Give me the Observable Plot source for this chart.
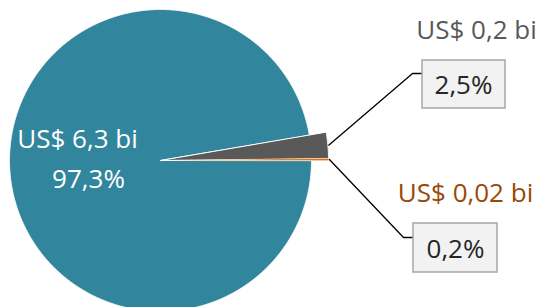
<!DOCTYPE html>
<html>
<head>
<meta charset="utf-8">
<script src="https://cdn.jsdelivr.net/npm/d3@7"></script>
<script src="https://cdn.jsdelivr.net/npm/@observablehq/plot@0.6"></script>
<style>
  html, body { margin: 0; padding: 0; background: #ffffff; }
  #chart { width: 554px; height: 307px; overflow: hidden; }
</style>
</head>
<body>
<div id="chart"></div>
<script>
// ---- data ----
const categories = ["Principal", "Segundo", "Terceiro"];
const shares = [97.3, 2.5, 0.2];
const valueLabels = ["US$ 6,3 bi", "US$ 0,2 bi", "US$ 0,02 bi"];
const percentLabels = ["97,3%", "2,5%", "0,2%"];

// ---- styles / layout ----
const sliceColors = ["#31859c", "#595959", "#e36c09"];
const sliceStroke = [1, 1, 0.4];
const valueColors = ["#ffffff", "#595959", "#984807"];
const W = 554, H = 307;
const CX = 160, CY = 160, R = 151;          // pie center & radius (px)
const sliceRadius = [1, 1.113, 1.113];     // relative radii
const FONT = "Open Sans";
const FS = 26;
const FW = 500;

// px -> data units helpers (layout only)
const ux = px => (px - CX) / R;
const uy = py => (CY - py) / R;

// label layout (px)
const valuePos = [[77, 147], [476, 38], [465, 201]];
const pctPos = [[88, 187], [463, 93], [455, 257]];
const boxPos = [null, [422, 60, 505, 108], [413, 223, 497, 272]];
const elbowPos = [null, [[412, 73], [422, 73]], [[403, 237], [413, 237]]];

// ---- pie geometry ----
const arcs = d3.pie().sort(null)
  .startAngle(Math.PI / 2)
  .endAngle(Math.PI / 2 + 2 * Math.PI)(shares);

function slicePoints(a, r, i) {
  const pts = [{x: 0, y: 0, i}];
  const span = a.endAngle - a.startAngle;
  const n = Math.max(8, Math.ceil(span / (Math.PI / 720)));
  for (let k = 0; k <= n; k++) {
    const t = a.startAngle + span * k / n;
    pts.push({x: r * Math.sin(t), y: r * Math.cos(t), i});
  }
  return pts;
}

const sliceMarks = arcs.map((a, i) =>
  Plot.line(slicePoints(a, sliceRadius[i], i), {
    x: "x", y: "y", fill: sliceColors[i], stroke: "#ffffff",
    strokeWidth: sliceStroke[i], strokeLinejoin: "round", curve: "linear-closed"
  })
);

// leader lines from outer mid-point of small slices
const leaders = [];
arcs.forEach((a, i) => {
  if (!elbowPos[i]) return;
  const m = (a.startAngle + a.endAngle) / 2;
  const r = sliceRadius[i] * 1.005;
  leaders.push({x: r * Math.sin(m), y: r * Math.cos(m), i});
  elbowPos[i].forEach(p => leaders.push({x: ux(p[0]), y: uy(p[1]), i}));
});

const boxes = boxPos.map((b, i) => b && ({
  x1: ux(b[0]), y1: uy(b[1]), x2: ux(b[2]), y2: uy(b[3]), i
})).filter(Boolean);

const valueText = valueLabels.map((t, i) => ({
  text: t, x: ux(valuePos[i][0]), y: uy(valuePos[i][1]), color: valueColors[i]
}));
const pctText = percentLabels.map((t, i) => ({
  text: t, x: ux(pctPos[i][0]), y: uy(pctPos[i][1]),
  color: i === 0 ? "#ffffff" : "#262626"
}));

const chart = Plot.plot({
  width: W, height: H,
  margin: 0,
  x: {domain: [ux(0), ux(W)], range: [0, W], axis: null},
  y: {domain: [uy(H), uy(0)], range: [H, 0], axis: null},
  style: {fontFamily: FONT, background: "#ffffff", overflow: "hidden"},
  marks: [
    ...sliceMarks,
    Plot.line(leaders, {x: "x", y: "y", z: "i", stroke: "#000000", strokeWidth: 1.3}),
    Plot.rect(boxes, {x1: "x1", x2: "x2", y1: "y1", y2: "y2",
      fill: "#f2f2f2", stroke: "#a6a6a6", strokeWidth: 1.5}),
    ...valueText.map(d => Plot.text([d], {x: "x", y: "y", text: "text",
      fill: d.color, fontSize: FS, fontFamily: FONT, fontWeight: FW, textAnchor: "middle", lineAnchor: "bottom"})),
    ...pctText.map(d => Plot.text([d], {x: "x", y: "y", text: "text",
      fill: d.color, fontSize: FS, fontFamily: FONT, fontWeight: FW, textAnchor: "middle", lineAnchor: "bottom"}))
  ]
});
document.getElementById("chart").appendChild(chart);
</script>
</body>
</html>
